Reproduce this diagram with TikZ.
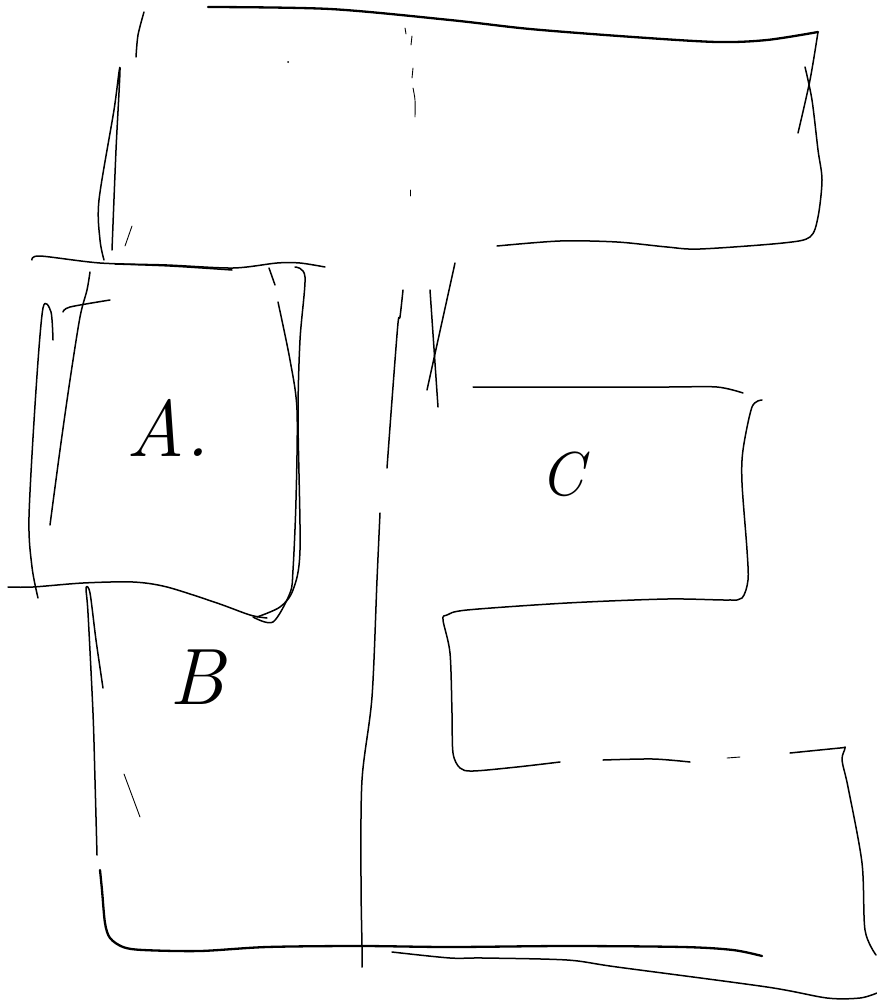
\documentclass[tikz,border=0pt]{standalone}
\usepackage{tikz}

\begin{document}
\begin{tikzpicture}[x=1pt,y=-1pt,pen/.style={line width=1.5pt,line cap=round,line join=round},thick pen/.style={pen,line width=2.3pt},faint/.style={pen,line width=0.9pt},lbl/.style={font=\itshape\fontsize{62}{62}\selectfont,inner sep=0pt},big lbl/.style={lbl,font=\itshape\fontsize{80}{80}\selectfont}]
\useasboundingbox (0,0) rectangle (877,1001);
% top room
\draw[thick pen] plot[smooth] coordinates {(208,7) (330,9) (450,20) (530,29) (633,37) (717,42) (767,40) (818,32)};
\draw[pen] plot[smooth] coordinates {(818,32) (810,80) (798,133)};
\draw[pen] plot[smooth] coordinates {(805,67) (812,100) (818,150) (822,180) (818,217) (810,237) (783,243) (700,249) (667,247) (617,242) (560,241) (497,246)};
\draw[pen] plot[smooth] coordinates {(144,12) (138,35) (136,57)};
\draw[pen] plot[smooth] coordinates {(112,250) (116,150) (120,68) (114,110) (99,200) (100,240) (104,260)};
\draw[faint] (132,226) -- (125,246);
\fill (288,62) circle (1pt);
% room A
\draw[pen] plot[smooth] coordinates {(32,260) (40,256) (100,263) (167,265) (233,268) (277,263) (300,263) (325,267)};
\draw[pen] plot[smooth] coordinates {(115,264) (170,266) (232,270)};
\draw[pen] plot[smooth] coordinates {(269,268) (275,285)};
\draw[pen] plot[smooth] coordinates {(278,302) (290,360) (297,410) (296,500) (293,570) (290,593) (273,622) (253,617)};
\draw[pen] plot[smooth] coordinates {(295,267) (305,277) (300,340) (298,417) (300,550) (293,590) (280,607) (257,617)};
\draw[pen] plot[smooth] coordinates {(8,587) (33,587) (83,583) (133,582) (167,587) (217,603) (250,615) (267,618)};
\draw[pen] plot[smooth] coordinates {(53,340) (51,312) (43,308) (36,390) (29,517) (32,567) (38,598)};
\draw[pen] plot[smooth] coordinates {(90,272) (87,290) (80,317) (70,380) (60,450) (50,525)};
\draw[pen] plot[smooth] coordinates {(63,312) (70,307) (110,300)};
\node[big lbl] (lblA) at (168,428) {A.};
% centre wall
\draw[faint] (405,28) -- (406,34);
\draw[faint] (412,36) -- (411,45);
\draw[faint] (413,68) -- (412,78);
\draw[faint] plot[smooth] coordinates {(413,88) (415,100) (415,117)};
\draw[faint] (410,190) -- (410,196);
\draw[pen] plot[smooth] coordinates {(403,290) (400,317) (398,323) (392,400) (387,468)};
\draw[pen] plot[smooth] coordinates {(380,513) (377,580) (372,697) (362,780) (361,880) (362,947) (362,967)};
\draw[pen] (455,263) -- (427,390);
\draw[pen] (430,290) -- (438,407);
% room C
\draw[pen] plot[smooth] coordinates {(473,387) (567,387) (667,387) (717,387) (743,393)};
\draw[pen] plot[smooth] coordinates {(762,400) (752,407) (743,450) (742,483) (747,550) (748,580) (742,598) (727,600) (667,599) (567,603) (467,610) (447,615) (443,620) (450,653) (452,713) (453,753) (460,768) (473,771) (517,767) (560,762)};
\node[lbl] (lblC) at (562,474) {C};
\draw[pen] plot[smooth] coordinates {(603,760) (653,759) (690,762)};
\draw[faint] (727,758) -- (740,757);
\draw[pen] plot[smooth] coordinates {(790,753) (840,748) (845,748) (842,760) (848,787) (862,863) (865,930) (876,955)};
% room B and bottom
\draw[pen] plot[smooth] coordinates {(877,993) (860,998) (827,998) (767,987) (617,967) (567,960) (483,958) (450,958) (392,952)};
\draw[thick pen] plot[smooth] coordinates {(762,956) (733,950) (683,947) (567,946) (450,947) (360,946) (267,947) (200,951) (143,950) (123,947) (110,938) (105,923) (102,890) (100,870)};
\draw[pen] plot[smooth] coordinates {(97,855) (95,780) (93,713) (88,613) (86,588) (90,593) (96,640) (103,688)};
\draw[faint] (124,774) -- (140,817);
\node[big lbl] (lblB) at (197,677) {B};
\end{tikzpicture}
\end{document}
